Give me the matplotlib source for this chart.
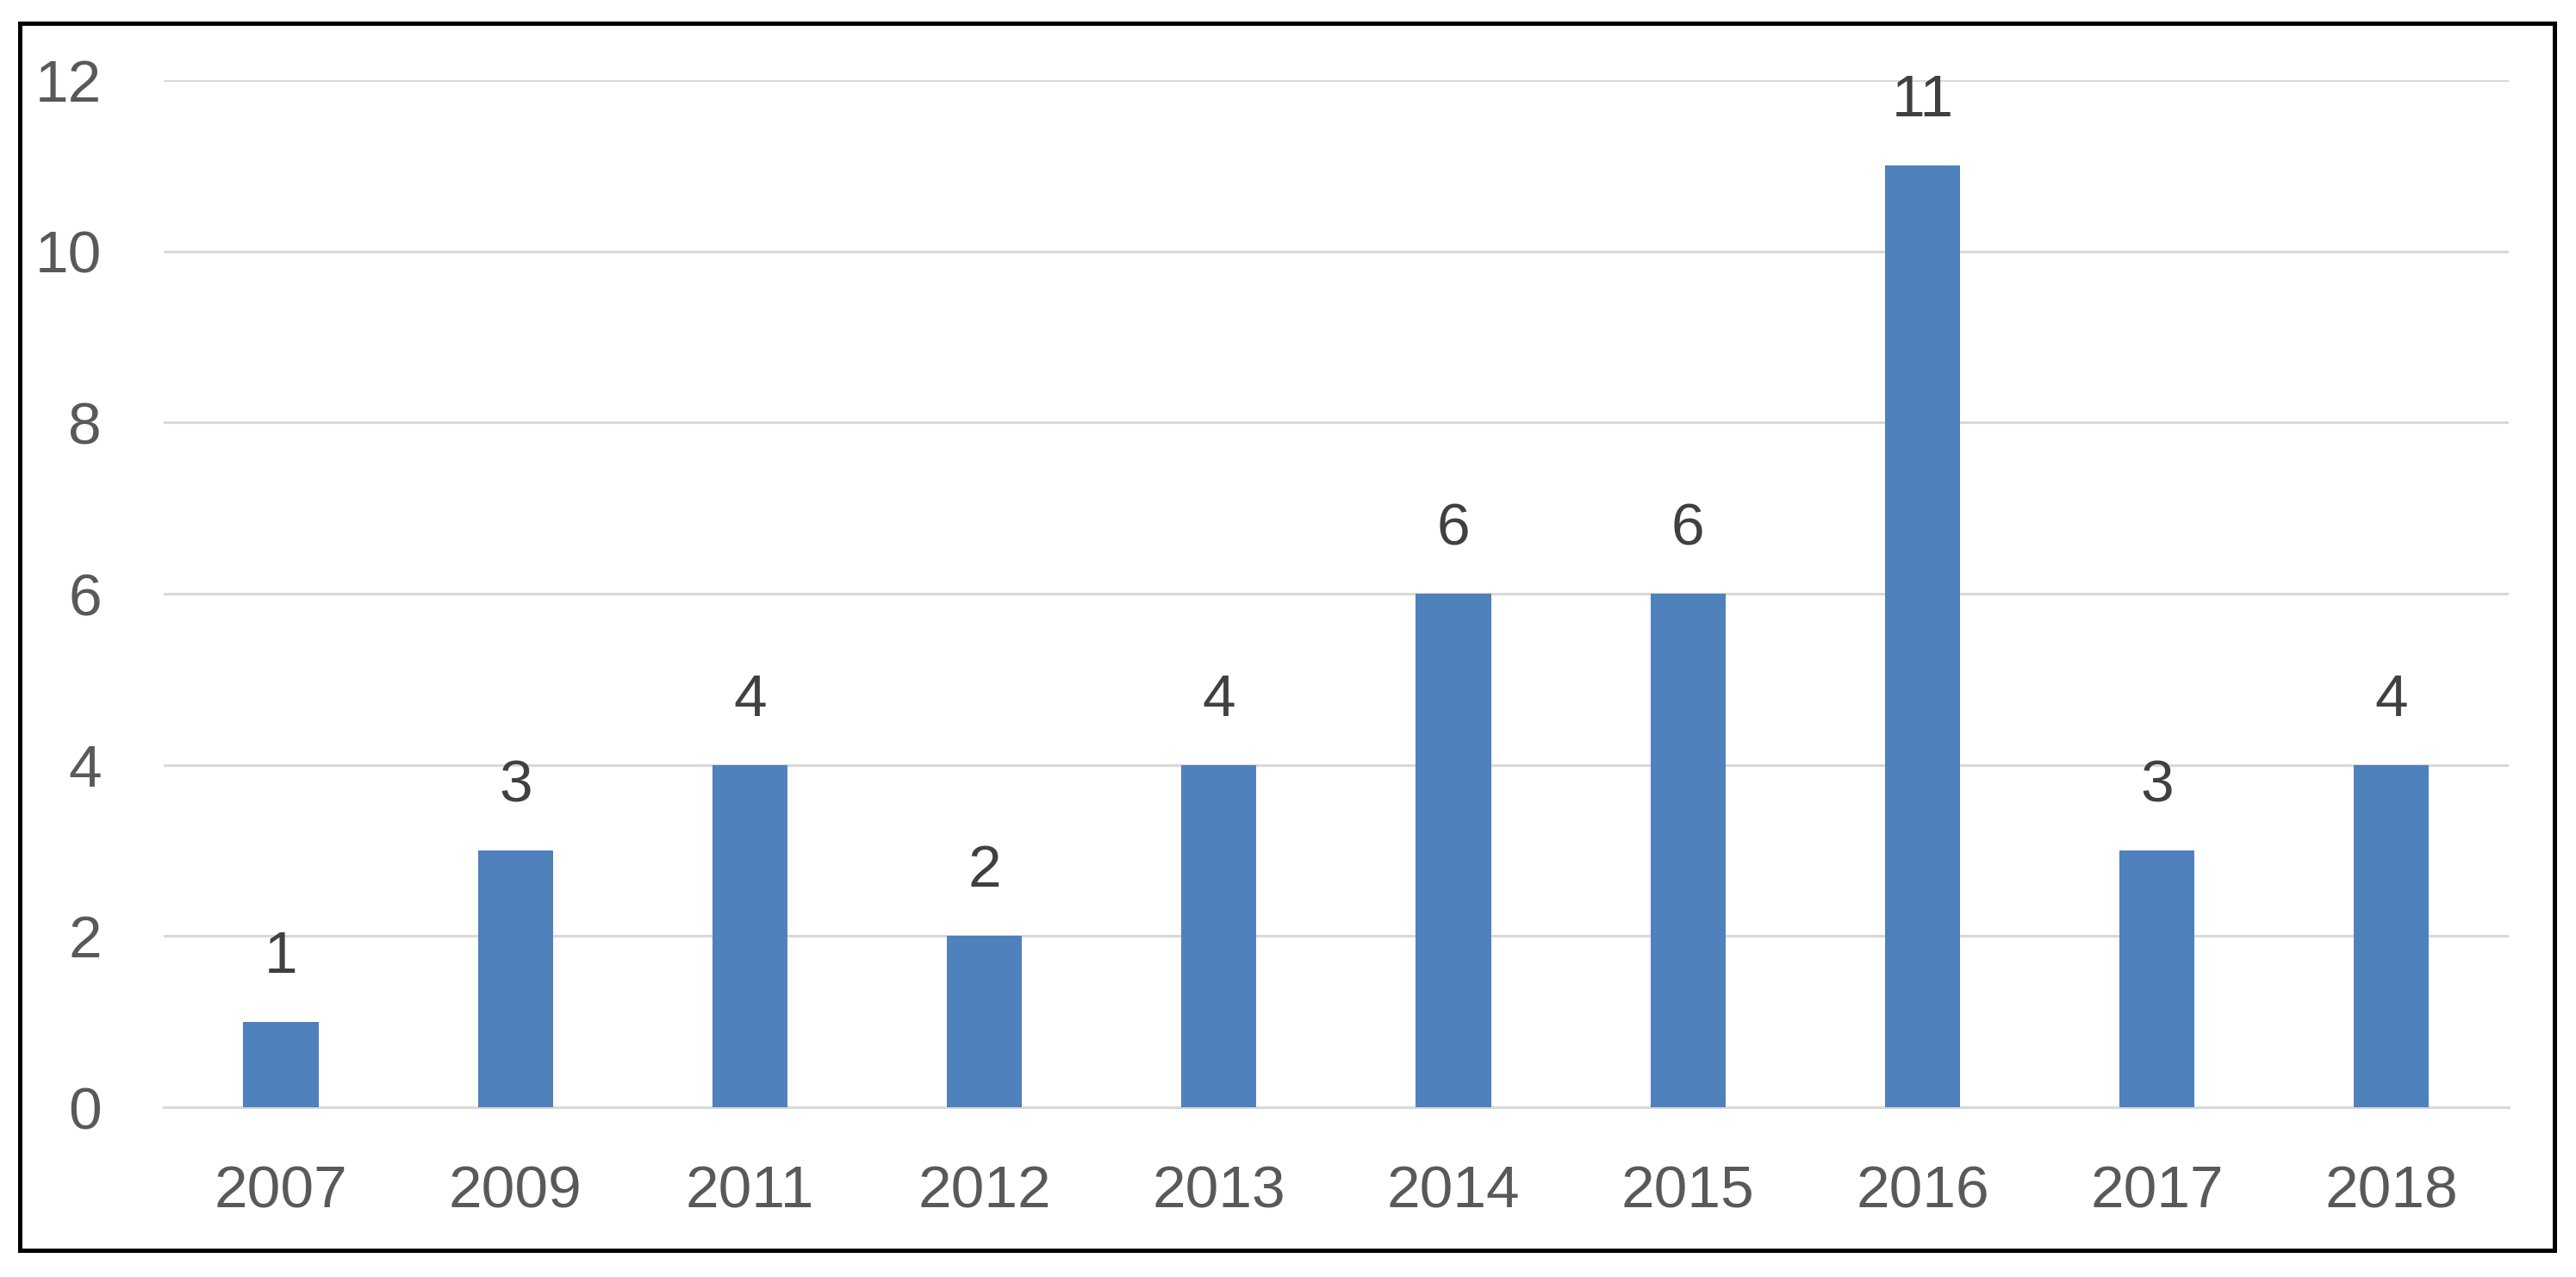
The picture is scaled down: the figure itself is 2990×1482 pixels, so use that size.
import matplotlib.pyplot as plt
from matplotlib.patches import Rectangle

years = ['2007', '2009', '2011', '2012', '2013', '2014', '2015', '2016', '2017', '2018']
counts = [1, 3, 4, 2, 4, 6, 6, 11, 3, 4]
y_ticks = [0, 2, 4, 6, 8, 10, 12]

plt.rcParams['font.family'] = ['Liberation Sans', 'DejaVu Sans']
text_color = '#595959'

fig = plt.figure(figsize=(29.9, 14.82), dpi=100)
ax = fig.add_axes([0.0635, 0.1329, 0.9104, 0.8043])

x = range(len(years))
bars = ax.bar(x, counts, width=0.32, color='#4F81BD', zorder=3)

for bar, value in zip(bars, counts):
    ax.annotate(str(value), (bar.get_x() + bar.get_width() / 2, bar.get_height()),
                xytext=(0, 41), textcoords='offset points', ha='center', va='baseline',
                fontsize=50, color='#404040')

ax.set_xlim(-0.5, len(years) - 0.5)
ax.set_ylim(0, 12)
ax.set_yticks(y_ticks)
ax.set_xticks(list(x))
ax.set_xticklabels(years)
ax.tick_params(axis='both', length=0, labelsize=50, colors=text_color)
ax.tick_params(axis='x', pad=48)
ax.tick_params(axis='y', pad=52)
ax.yaxis.grid(True, color='#d9d9d9', linewidth=2.2, zorder=0)
ax.set_axisbelow(True)
for side in ['top', 'right', 'left']:
    ax.spines[side].set_visible(False)
ax.spines['bottom'].set_color('#d9d9d9')
ax.spines['bottom'].set_linewidth(2.2)

# black frame round the whole chart
fig.patches.append(Rectangle((23 / 2990, 31.5 / 1482), 2941.5 / 2990, 1424 / 1482,
                             transform=fig.transFigure, fill=False, edgecolor='black',
                             linewidth=3.6))

fig.savefig('out.png', dpi=100)
